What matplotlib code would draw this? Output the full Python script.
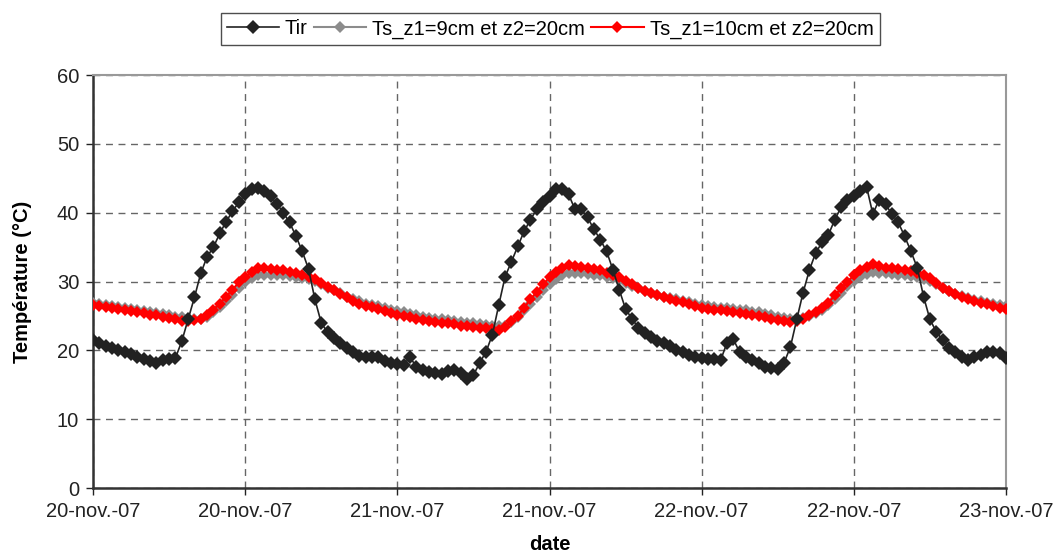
import numpy as np
import matplotlib
matplotlib.use("Agg")
import matplotlib.pyplot as plt

plt.rcParams['font.family'] = ['Liberation Sans', 'DejaVu Sans']

# half-hourly samples, hours since 20-nov-07 00:00
hours = np.arange(0, 72.5, 0.5)

tir = [21.5, 21.0, 20.6, 20.3, 20.0, 19.7, 19.4, 19.0, 18.7, 18.4,
       18.2, 18.6, 18.7, 18.9, 21.3, 24.5, 27.7, 31.2, 33.6, 35.0,
       37.0, 38.7, 40.2, 41.5, 42.7, 43.4, 43.6, 43.2, 42.4, 41.3,
       40.0, 38.6, 36.6, 34.4, 31.8, 27.4, 24.0, 22.6, 21.8, 21.0,
       20.4, 19.7, 19.2, 19.0, 19.0, 19.1, 18.4, 18.2, 18.0, 17.9,
       19.0, 17.6, 17.1, 16.8, 16.7, 16.5, 17.0, 17.2, 16.7, 15.9,
       16.4, 18.2, 19.8, 22.3, 26.6, 30.7, 32.9, 35.1, 37.3, 39.0,
       40.5, 41.5, 42.4, 43.4, 43.4, 42.7, 40.5, 40.5, 39.3, 37.6,
       36.1, 34.4, 31.7, 28.8, 26.0, 24.6, 23.3, 22.5, 21.9, 21.4,
       21.0, 20.7, 20.1, 19.8, 19.3, 19.0, 18.9, 18.8, 18.7, 18.6,
       21.1, 21.6, 19.7, 19.0, 18.6, 18.2, 17.6, 17.5, 17.3, 18.2,
       20.5, 24.5, 28.4, 31.7, 34.2, 35.7, 36.8, 39.0, 40.8, 41.9,
       42.4, 43.1, 43.8, 39.8, 41.9, 41.2, 39.8, 38.6, 36.6, 34.4,
       32.0, 27.8, 24.5, 22.7, 21.5, 20.4, 19.7, 19.1, 18.6, 19.1,
       19.3, 19.8, 19.7, 19.6, 18.9]

ts_10 = [26.6, 26.4, 26.3, 26.1, 26.0, 25.8, 25.7, 25.5, 25.4, 25.2,
         25.1, 24.9, 24.7, 24.5, 24.3, 24.2, 24.4, 24.6, 25.1, 25.9,
         26.8, 27.8, 28.8, 29.9, 30.7, 31.4, 31.9, 31.9, 31.8, 31.7,
         31.6, 31.4, 31.2, 31.0, 30.7, 30.4, 29.8, 29.2, 28.7, 28.2,
         27.7, 27.2, 26.8, 26.5, 26.3, 26.0, 25.7, 25.4, 25.2, 25.0,
         24.8, 24.6, 24.4, 24.2, 24.1, 24.0, 23.9, 23.8, 23.6, 23.5,
         23.4, 23.3, 23.2, 23.1, 23.0, 23.4, 24.2, 25.0, 26.2, 27.4,
         28.5, 29.6, 30.6, 31.4, 31.9, 32.4, 32.3, 32.1, 32.0, 31.8,
         31.6, 31.3, 31.0, 30.6, 30.1, 29.6, 29.1, 28.6, 28.3, 28.0,
         27.7, 27.5, 27.2, 27.0, 26.8, 26.5, 26.2, 26.0, 25.9, 25.8,
         25.7, 25.5, 25.4, 25.3, 25.1, 25.0, 24.8, 24.6, 24.4, 24.2,
         24.1, 24.2, 24.6, 25.1, 25.6, 26.1, 26.9, 28.0, 29.0, 30.0,
         30.9, 31.6, 32.1, 32.5, 32.2, 32.0, 31.9, 31.8, 31.6, 31.5,
         31.2, 30.9, 30.5, 29.8, 29.1, 28.6, 28.2, 27.8, 27.4, 27.1,
         26.9, 26.7, 26.5, 26.2, 26.0]

ts_9 = [26.9, 26.8, 26.6, 26.5, 26.3, 26.2, 26.0, 25.9, 25.7, 25.6,
        25.4, 25.3, 25.1, 24.9, 24.8, 24.6, 24.5, 24.5, 24.8, 25.5,
        26.3, 27.2, 28.1, 29.1, 29.9, 30.5, 30.9, 31.0, 31.0, 30.9,
        30.9, 30.8, 30.6, 30.5, 30.3, 30.1, 29.6, 29.1, 28.7, 28.3,
        27.8, 27.4, 27.1, 26.8, 26.6, 26.4, 26.2, 25.9, 25.7, 25.5,
        25.3, 25.1, 24.9, 24.7, 24.6, 24.5, 24.4, 24.3, 24.1, 24.0,
        23.9, 23.8, 23.7, 23.6, 23.5, 23.6, 24.1, 24.8, 25.8, 26.8,
        27.8, 28.8, 29.7, 30.4, 30.9, 31.3, 31.3, 31.2, 31.1, 31.0,
        30.9, 30.7, 30.5, 30.2, 29.8, 29.4, 29.0, 28.6, 28.3, 28.0,
        27.8, 27.6, 27.4, 27.2, 27.0, 26.8, 26.6, 26.4, 26.3, 26.2,
        26.1, 26.0, 25.9, 25.8, 25.6, 25.5, 25.3, 25.1, 24.9, 24.7,
        24.5, 24.5, 24.7, 25.0, 25.4, 25.9, 26.6, 27.5, 28.4, 29.3,
        30.1, 30.7, 31.1, 31.4, 31.3, 31.2, 31.1, 31.0, 30.9, 30.8,
        30.6, 30.4, 30.1, 29.6, 29.0, 28.6, 28.2, 27.9, 27.6, 27.3,
        27.1, 26.9, 26.8, 26.6, 26.4]

tick_hours = [0, 12, 24, 36, 48, 60, 72]
tick_labels = ["20-nov.-07", "20-nov.-07", "21-nov.-07", "21-nov.-07",
               "22-nov.-07", "22-nov.-07", "23-nov.-07"]
y_ticks = [0, 10, 20, 30, 40, 50, 60]

FS = 14.5

fig = plt.figure(figsize=(10.56, 5.55), dpi=100)
ax = fig.add_axes([93/1056, 1-488/555, (1006-93)/1056, (488-75)/555])

ax.plot(hours, ts_9, color='#8c8c8c', marker='D', markersize=6.5,
        linewidth=1.5, markeredgewidth=0, label='Ts_z1=9cm et z2=20cm', zorder=3)
ax.plot(hours, ts_10, color='#ff0000', marker='D', markersize=6.5,
        linewidth=1.5, markeredgewidth=0, label='Ts_z1=10cm et z2=20cm', zorder=4)
ax.plot(hours, tir, color='#222222', marker='D', markersize=7,
        linewidth=1.2, markeredgewidth=0, label='Tir', zorder=5)

ax.set_xlim(0, 72)
ax.set_ylim(0, 60)
ax.set_xticks(tick_hours)
ax.set_xticklabels(tick_labels)
ax.set_yticks(y_ticks)
ax.tick_params(axis='both', labelsize=FS, colors='#222222', length=5, width=1)
ax.tick_params(axis='x', pad=5)
ax.tick_params(axis='y', pad=5)

ax.grid(True, linestyle=(0, (5, 4)), color='#666666', linewidth=1)
ax.set_axisbelow(True)

for s in ['left', 'bottom']:
    ax.spines[s].set_color('#333333')
    ax.spines[s].set_linewidth(1.8)
for s in ['top', 'right']:
    ax.spines[s].set_color('#999999')
    ax.spines[s].set_linewidth(1.5)

ax.set_ylabel('Température (°C)', fontsize=FS, fontweight='bold', labelpad=18)
ax.set_xlabel('date', fontsize=FS, fontweight='bold', labelpad=10)

handles, labels = ax.get_legend_handles_labels()
order = [2, 0, 1]
leg = fig.legend([handles[i] for i in order], [labels[i] for i in order],
                 loc='center', bbox_to_anchor=(550/1056, 1-29/555), ncol=3,
                 frameon=True, fancybox=False, edgecolor='#222222',
                 fontsize=FS, handlelength=2.6, handletextpad=0.3,
                 columnspacing=0.3, borderpad=0.3, borderaxespad=0)
leg.get_frame().set_linewidth(1.0)

fig.savefig('out.png', dpi=100)
